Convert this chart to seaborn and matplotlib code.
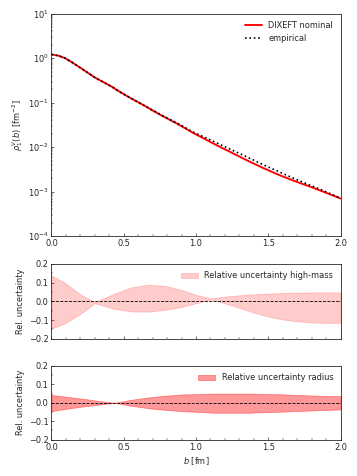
import numpy as np
import pandas as pd
import matplotlib
matplotlib.use("Agg")
import matplotlib.pyplot as plt
from matplotlib.ticker import AutoMinorLocator, LogLocator, NullFormatter
import seaborn as sns

# ---- data ----
b_main = [0.0, 0.05, 0.096, 0.14, 0.188, 0.24, 0.30, 0.36, 0.417, 0.47, 0.53, 0.59, 0.646, 0.70,
          0.76, 0.82, 0.875, 0.93, 0.985, 1.05, 1.115, 1.23, 1.345, 1.46, 1.574, 1.69, 1.80, 1.90, 2.0]
rho_nominal = [1.22, 1.14, 1.0, 0.82, 0.65, 0.50, 0.37, 0.29, 0.23, 0.178, 0.137, 0.107, 0.085, 0.067,
               0.052, 0.041, 0.033, 0.026, 0.0205, 0.016, 0.0123, 0.0080, 0.0052, 0.00345, 0.00237, 0.00169,
               0.00126, 0.00094, 0.00070]
rho_empirical = [1.22, 1.14, 1.0, 0.82, 0.65, 0.50, 0.37, 0.29, 0.23, 0.178, 0.137, 0.107, 0.085, 0.068,
                 0.053, 0.042, 0.034, 0.027, 0.0215, 0.0172, 0.0138, 0.0092, 0.0062, 0.0041, 0.0028, 0.0019,
                 0.00135, 0.00099, 0.00071]

b_mass = [0.0, 0.092, 0.207, 0.30, 0.44, 0.553, 0.668, 0.783, 0.899, 1.014, 1.106, 1.244, 1.36,
          1.475, 1.59, 1.705, 1.82, 2.0]
mass_upper = [0.139, 0.10, 0.034, -0.004, 0.043, 0.075, 0.089, 0.084, 0.061, 0.032, 0.016, 0.029,
              0.036, 0.041, 0.045, 0.047, 0.048, 0.048]
mass_lower = [-0.146, -0.118, -0.064, -0.010, -0.041, -0.054, -0.055, -0.046, -0.030, -0.007, 0.011,
              -0.021, -0.050, -0.077, -0.096, -0.107, -0.114, -0.116]

b_radius = [0.0, 0.10, 0.207, 0.32, 0.438, 0.55, 0.668, 0.78, 0.899, 1.13, 1.36, 1.59, 1.82, 2.0]
radius_upper = [0.043, 0.033, 0.023, 0.011, 0.0, 0.016, 0.029, 0.038, 0.045, 0.050, 0.050, 0.046, 0.039, 0.036]
radius_lower = [-0.045, -0.033, -0.021, -0.011, 0.0, -0.016, -0.029, -0.038, -0.045, -0.054, -0.054,
                -0.048, -0.041, -0.036]

x_ticks = [0.0, 0.5, 1.0, 1.5, 2.0]
rel_ticks = [-0.2, -0.1, 0.0, 0.1, 0.2]

# ---- styling ----
sns.set_style("ticks")
plt.rcParams.update({
    "font.family": ["DejaVu Sans"],
    "xtick.direction": "in",
    "ytick.direction": "in",
    "font.size": 10,
    "axes.linewidth": 1.0,
})

fig = plt.figure(figsize=(6, 8), dpi=59.5)
L, W = 0.144, 0.810
ax1 = fig.add_axes([L, 0.504, W, 0.467])
ax2 = fig.add_axes([L, 0.2884, W, 0.157])
ax3 = fig.add_axes([L, 0.0763, W, 0.155])

main_df = pd.DataFrame({"b": b_main, "nominal": rho_nominal, "empirical": rho_empirical})
sns.lineplot(data=main_df, x="b", y="nominal", ax=ax1, color="red", lw=2.3, label="DIXEFT nominal")
sns.lineplot(data=main_df, x="b", y="empirical", ax=ax1, color="black", lw=2, ls=":", label="empirical")
ax1.set_yscale("log")
ax1.set_ylim(1e-4, 10)
ax1.set_xlim(0, 2)
ax1.set_xticks(x_ticks)
ax1.xaxis.set_minor_locator(AutoMinorLocator(5))
ax1.yaxis.set_minor_locator(LogLocator(base=10, subs=np.arange(2, 10), numticks=20))
ax1.yaxis.set_minor_formatter(NullFormatter())
ax1.set_xlabel("")
ax1.set_ylabel(r"$\rho_1^V(b)$ [fm$^{-2}$]")
ax1.legend(loc="upper right", frameon=False)

ax2.fill_between(b_mass, mass_lower, mass_upper, color="red", alpha=0.2,
                 label="Relative uncertainty high-mass")
ax2.axhline(0, color="black", ls="--", lw=1)
ax2.set_xlim(0, 2)
ax2.set_ylim(-0.2, 0.2)
ax2.set_xticks(x_ticks)
ax2.set_xticklabels([])
ax2.set_yticks(rel_ticks)
ax2.xaxis.set_minor_locator(AutoMinorLocator(5))
ax2.yaxis.set_minor_locator(AutoMinorLocator(2))
ax2.set_ylabel("Rel. uncertainty")
ax2.legend(loc="upper right", frameon=False)

ax3.fill_between(b_radius, radius_lower, radius_upper, color="red", alpha=0.4,
                 label="Relative uncertainty radius")
ax3.axhline(0, color="black", ls="--", lw=1)
ax3.set_xlim(0, 2)
ax3.set_ylim(-0.2, 0.2)
ax3.set_xticks(x_ticks)
ax3.set_yticks(rel_ticks)
ax3.xaxis.set_minor_locator(AutoMinorLocator(5))
ax3.yaxis.set_minor_locator(AutoMinorLocator(2))
ax3.set_ylabel("Rel. uncertainty")
ax3.set_xlabel(r"$b$ [fm]")
ax3.legend(loc="upper right", frameon=False)

for ax in (ax1, ax2, ax3):
    for s in ax.spines.values():
        s.set_visible(True)
    ax.tick_params(which="both", top=False, right=False)

fig.align_ylabels([ax1, ax2, ax3])
fig.savefig("out.png", dpi=59.5)
